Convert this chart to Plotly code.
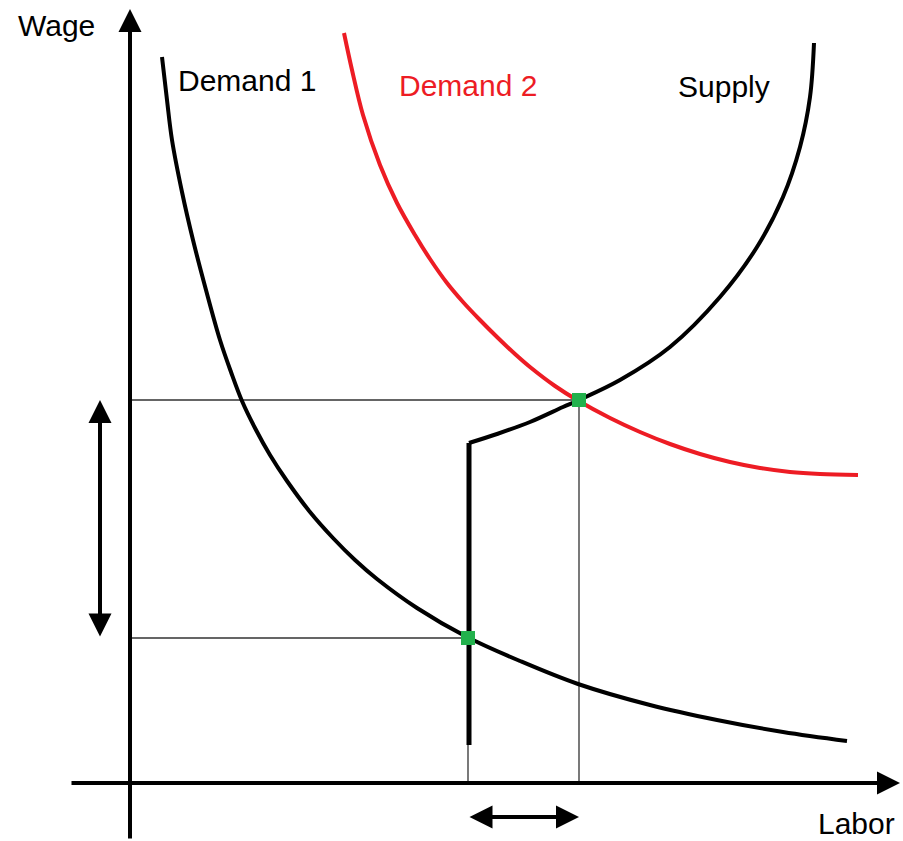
import plotly.graph_objects as go

# labor market sketch (origin where the axes cross)
demand1_labor = [32, 37, 42, 52, 63, 76, 90, 101, 112, 125, 140, 157, 180, 203, 225, 247,
                 287, 337, 390, 448, 520, 587, 653, 717]
demand1_wage = [726, 683, 643, 591, 543, 493, 443, 411, 382, 355, 328, 302, 271, 245, 223, 204,
                175, 146, 122, 99, 78, 63, 51, 42]

demand2_labor = [214, 222, 233, 250, 267, 285, 300, 317, 333, 350, 367, 385, 400, 425, 447,
                 480, 510, 540, 570, 600, 630, 660, 690, 728]
demand2_wage = [750, 713, 668, 618, 580, 548, 524, 500, 481, 463, 446, 429, 416, 397, 383,
                365, 351, 339, 329, 321, 315, 311, 309, 308]

# supply: vertical part (minimum wage floor) then the rising curve
supply_floor_labor = [339, 339]
supply_floor_wage = [38, 340]
supply_labor = [339, 367, 400, 433, 449, 490, 540, 590, 627, 653, 670, 680, 684]
supply_wage = [340, 349, 361, 376, 383, 403, 436, 486, 536, 586, 636, 686, 740]

# equilibrium points (demand 1, demand 2)
eq_labor = [338, 449]
eq_wage = [145, 383]

# axis extents
x_axis_from, x_axis_to = -60, 770
y_axis_from, y_axis_to = -57, 774

RED = '#ED1C24'
GREEN = '#22B14C'
GUIDE = '#333333'
FONT = 'Liberation Sans, Arial, sans-serif'

fig = go.Figure()

# thin guide lines from the equilibria to the axes
for lab, wag in zip(eq_labor, eq_wage):
    fig.add_trace(go.Scatter(x=[0, lab, lab], y=[wag, wag, 0], mode='lines',
                             line=dict(color=GUIDE, width=1.3), hoverinfo='skip'))

fig.add_trace(go.Scatter(x=demand1_labor, y=demand1_wage, mode='lines', name='Demand 1',
                         line=dict(color='black', width=4, shape='spline')))
fig.add_trace(go.Scatter(x=demand2_labor, y=demand2_wage, mode='lines', name='Demand 2',
                         line=dict(color=RED, width=4, shape='spline')))
fig.add_trace(go.Scatter(x=supply_floor_labor, y=supply_floor_wage, mode='lines',
                         line=dict(color='black', width=5)))
fig.add_trace(go.Scatter(x=supply_labor, y=supply_wage, mode='lines', name='Supply',
                         line=dict(color='black', width=4, shape='spline')))

fig.add_trace(go.Scatter(x=eq_labor, y=eq_wage, mode='markers',
                         marker=dict(symbol='square', size=14, color=GREEN, line=dict(width=0))))

def arrow(x0, y0, x1, y1, both=False):
    fig.add_annotation(x=x1, y=y1, ax=x0, ay=y0, xref='x', yref='y', axref='x', ayref='y',
                       text='', showarrow=True, arrowhead=2, startarrowhead=2,
                       arrowsize=1.15, startarrowsize=1.15, arrowwidth=4, arrowcolor='black',
                       arrowside='end+start' if both else 'end', standoff=0, startstandoff=0)

# axes with arrow heads
arrow(x_axis_from, 0, x_axis_to, 0)
arrow(0, y_axis_from, 0, y_axis_to)

# double arrows showing the change in wage and in labor
arrow(-30, eq_wage[0], -30, eq_wage[1], both=True)
arrow(eq_labor[0], -34, eq_labor[1], -34, both=True)

labels = [('Wage', -114, 758, 'black'), ('Demand 1', 46, 703, 'black'),
          ('Demand 2', 267, 698, RED), ('Supply', 546, 697, 'black'),
          ('Labor', 686, -40, 'black')]
for txt, lx, ly, col in labels:
    fig.add_annotation(x=lx, y=ly, xref='x', yref='y', text=txt, showarrow=False,
                       xanchor='left', yanchor='middle',
                       font=dict(family=FONT, size=30, color=col))

fig.update_layout(width=903, height=841, margin=dict(l=0, r=0, t=0, b=0),
                  paper_bgcolor='white', plot_bgcolor='white', showlegend=False,
                  xaxis=dict(range=[-130, 773], visible=False),
                  yaxis=dict(range=[-58, 783], visible=False))

fig.write_html("out.html", config={'displayModeBar': False},
               post_script="document.body.style.margin='0';")
